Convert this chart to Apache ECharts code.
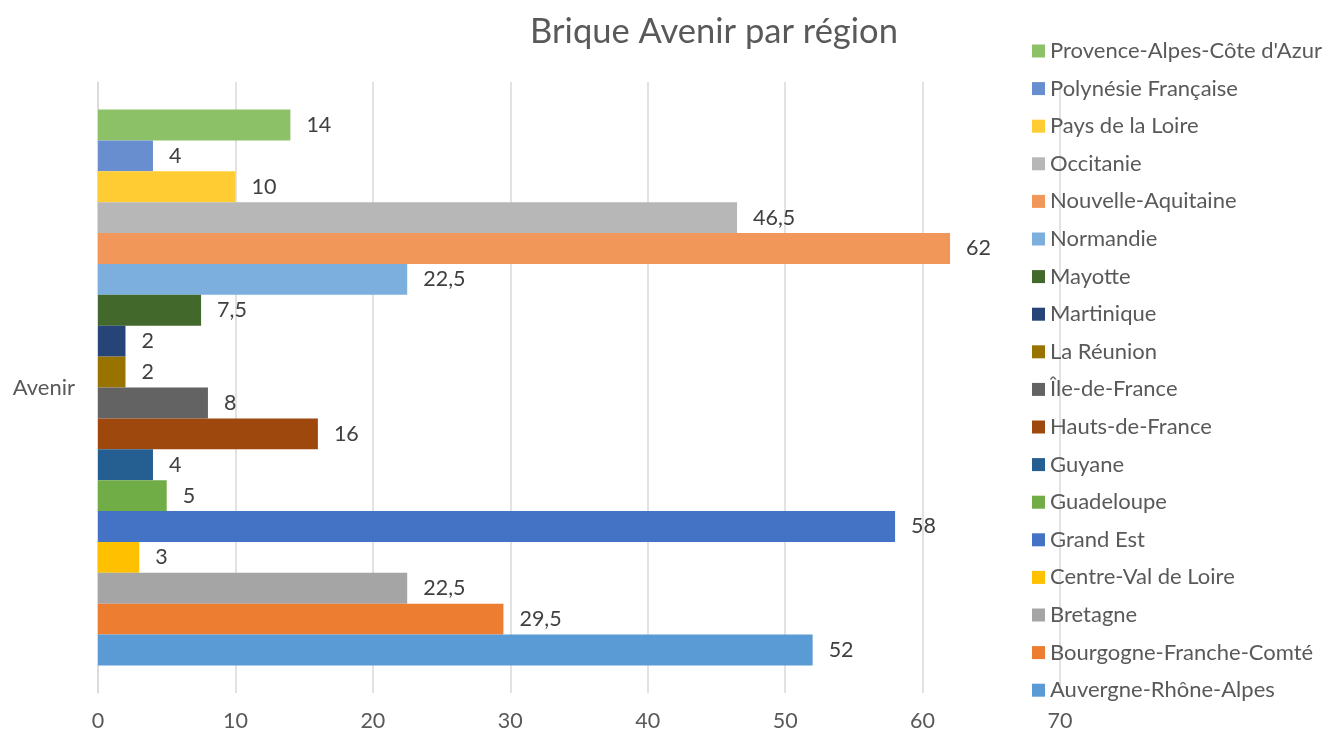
<!DOCTYPE html>
<html>
<head>
<meta charset="utf-8">
<script src="https://cdn.jsdelivr.net/npm/echarts@6/dist/echarts.min.js"></script>
<style>
  html, body { margin: 0; padding: 0; background: #fff; }
  #chart { width: 1324px; height: 734px; }
</style>
</head>
<body>
<div id="chart"></div>
<script>
// données
const categories = ["Avenir"];
const regions = [
  "Auvergne-Rhône-Alpes", "Bourgogne-Franche-Comté", "Bretagne", "Centre-Val de Loire",
  "Grand Est", "Guadeloupe", "Guyane", "Hauts-de-France", "Île-de-France", "La Réunion",
  "Martinique", "Mayotte", "Normandie", "Nouvelle-Aquitaine", "Occitanie",
  "Pays de la Loire", "Polynésie Française", "Provence-Alpes-Côte d'Azur"
];
const values = [52, 29.5, 22.5, 3, 58, 5, 4, 16, 8, 2, 2, 7.5, 22.5, 62, 46.5, 10, 4, 14];
const colors = [
  "#5B9BD5", "#ED7D31", "#A5A5A5", "#FFC000", "#4472C4", "#70AD47", "#255E91", "#9E480E",
  "#636363", "#997300", "#264478", "#43682B", "#7CAFDD", "#F1975A", "#B7B7B7", "#FFCD33",
  "#698ED0", "#8CC168"
];
const xTicks = [0, 10, 20, 30, 40, 50, 60, 70];

const font = "Lato, sans-serif";
const chart = echarts.init(document.getElementById("chart"));

// echarts met la 1re série en haut -> on inverse pour avoir Auvergne en bas
const series = [];
for (let i = regions.length - 1; i >= 0; i--) {
  series.push({
    name: regions[i],
    type: "bar",
    data: [values[i]],
    itemStyle: { color: colors[i] },
    barGap: "0%",
    barCategoryGap: "9%",
    label: {
      show: true,
      position: "right",
      distance: 16,
      color: "#404040",
      fontSize: 21.5,
      fontFamily: font,
      formatter: (p) => String(p.value).replace(".", ",")
    }
  });
}

chart.setOption({
  animation: false,
  title: {
    text: "Brique Avenir par région",
    left: 709,
    top: 9,
    textAlign: "center",
    textStyle: { color: "#595959", fontSize: 34.5, fontWeight: "normal", fontFamily: font }
  },
  legend: {
    orient: "vertical",
    left: 1027,
    top: 35,
    height: 699,
    itemWidth: 13,
    itemHeight: 13,
    itemGap: 15.6,
    icon: "rect",
    textStyle: { color: "#595959", fontSize: 22, lineHeight: 22, fontFamily: font }
  },
  grid: { left: 98, right: 264, top: 82, bottom: 41, containLabel: false },
  xAxis: {
    type: "value",
    min: xTicks[0],
    max: xTicks[xTicks.length - 1],
    interval: 10,
    axisLine: { show: false },
    axisTick: { show: false },
    splitLine: { lineStyle: { color: "#D9D9D9", width: 1.5 } },
    axisLabel: { color: "#595959", fontSize: 21.5, fontFamily: font, margin: 17 }
  },
  yAxis: {
    type: "category",
    data: categories,
    axisLine: { show: true, lineStyle: { color: "#D9D9D9", width: 1.5 } },
    axisTick: { show: false },
    axisLabel: { color: "#595959", fontSize: 22, fontFamily: font, margin: 23 }
  },
  series: series
});
</script>
</body>
</html>
